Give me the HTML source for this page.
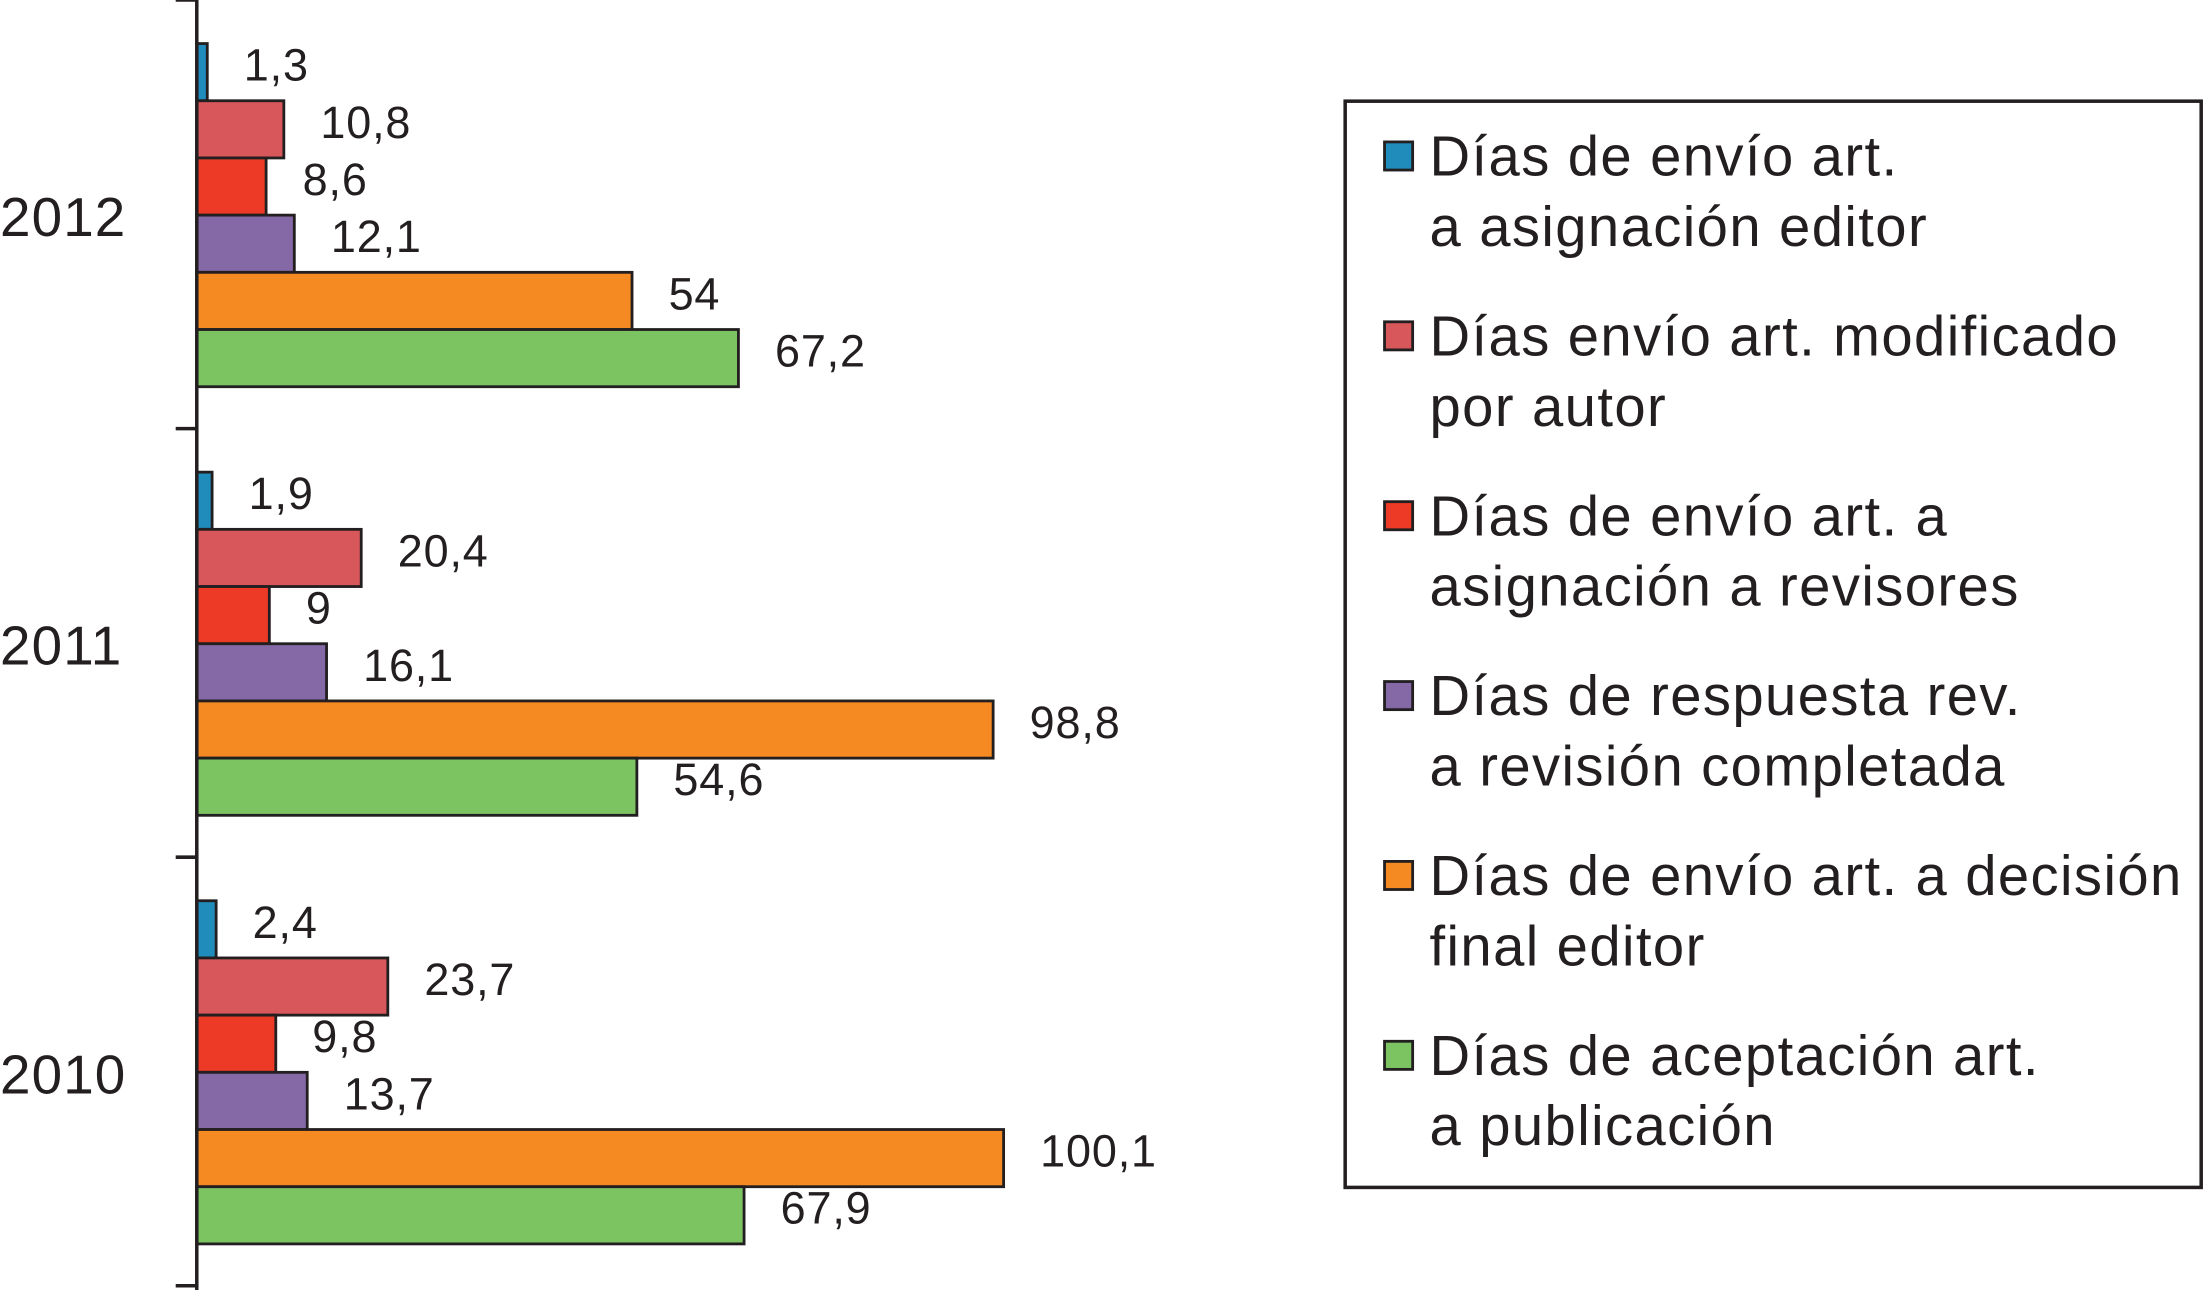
<!DOCTYPE html>
<html><head><meta charset="utf-8"><style>
html,body{margin:0;padding:0;background:#fff;}
svg{display:block;font-family:"Liberation Sans",Arial,sans-serif;}
</style></head><body>
<svg id="chart" width="2204" height="1290" viewBox="0 0 1568 918" preserveAspectRatio="none" xmlns="http://www.w3.org/2000/svg">
<g id="bars"></g>
<g id="axis"></g>
<g id="legend"></g>
</svg>
<script>
const years = ["2012","2011","2010"];
const seriesNames = [
  ["Días de envío art.","a asignación editor"],
  ["Días envío art. modificado","por autor"],
  ["Días de envío art. a","asignación a revisores"],
  ["Días de respuesta rev.","a revisión completada"],
  ["Días de envío art. a decisión","final editor"],
  ["Días de aceptación art.","a publicación"]
];
const colors = ["#1f8cbc","#d8575b","#ec3a26","#8568a6","#f68a22","#7cc462"];
const values2012 = [1.3,10.8,8.6,12.1,54,67.2];
const values2011 = [1.9,20.4,9,16.1,98.8,54.6];
const values2010 = [2.4,23.7,9.8,13.7,100.1,67.9];
const labels2012 = ["1,3","10,8","8,6","12,1","54","67,2"];
const labels2011 = ["1,9","20,4","9","16,1","98,8","54,6"];
const labels2010 = ["2,4","23,7","9,8","13,7","100,1","67,9"];

const NS="http://www.w3.org/2000/svg";
const x0=140, pxPerUnit=574/100.1;
const xScale=v=>x0+v*pxPerUnit;
const groupTop=i=>31+i*305;
const barH=40.7;
const allVals=[values2012,values2011,values2010];
const allLabels=[labels2012,labels2011,labels2010];
function mk(tag,attrs,parent){const e=document.createElementNS(NS,tag);for(const k in attrs)e.setAttribute(k,attrs[k]);parent.appendChild(e);return e;}
const bars=document.getElementById('bars');
years.forEach((y,gi)=>{
  allVals[gi].forEach((v,si)=>{
    const top=groupTop(gi)+si*barH;
    const r=mk('rect',{x:x0,y:top,width:xScale(v)-x0,height:barH,fill:colors[si],stroke:'#231f20','stroke-width':2},bars);
    
    
    const t=mk('text',{x:xScale(v)+26,y:top+barH/2+6,'font-size':32,'letter-spacing':0.6,fill:'#231f20'},bars);
    t.textContent=allLabels[gi][si];
    
    
  });
  const yl=mk('text',{x:0,y:groupTop(gi)+122+15,'font-size':39,'letter-spacing':0.8,fill:'#231f20'},bars);
  yl.textContent=y;
  
  
});
const axis=document.getElementById('axis');
mk('line',{x1:x0,y1:0,x2:x0,y2:918,stroke:'#231f20','stroke-width':2.5},axis);
[0,305,610,915].forEach(ty=>{
  const l=mk('line',{x1:125,y1:ty,x2:x0,y2:ty,stroke:'#231f20','stroke-width':2.5},axis);
  
  
});
const lg=document.getElementById('legend');
const box=mk('rect',{x:957,y:72,width:609,height:773,fill:'#fff',stroke:'#231f20','stroke-width':2.5},lg);


seriesNames.forEach((nm,i)=>{
  const cy=111+i*128;
  const s=mk('rect',{x:985,y:cy-10,width:20,height:20,fill:colors[i],stroke:'#231f20','stroke-width':2},lg);
  
  
  nm.forEach((line,li)=>{
    const t=mk('text',{x:1017,y:cy+14+li*50,'font-size':40,'letter-spacing':1,fill:'#231f20'},lg);
    t.textContent=line;
    
    
  });
});
</script>
</body></html>
